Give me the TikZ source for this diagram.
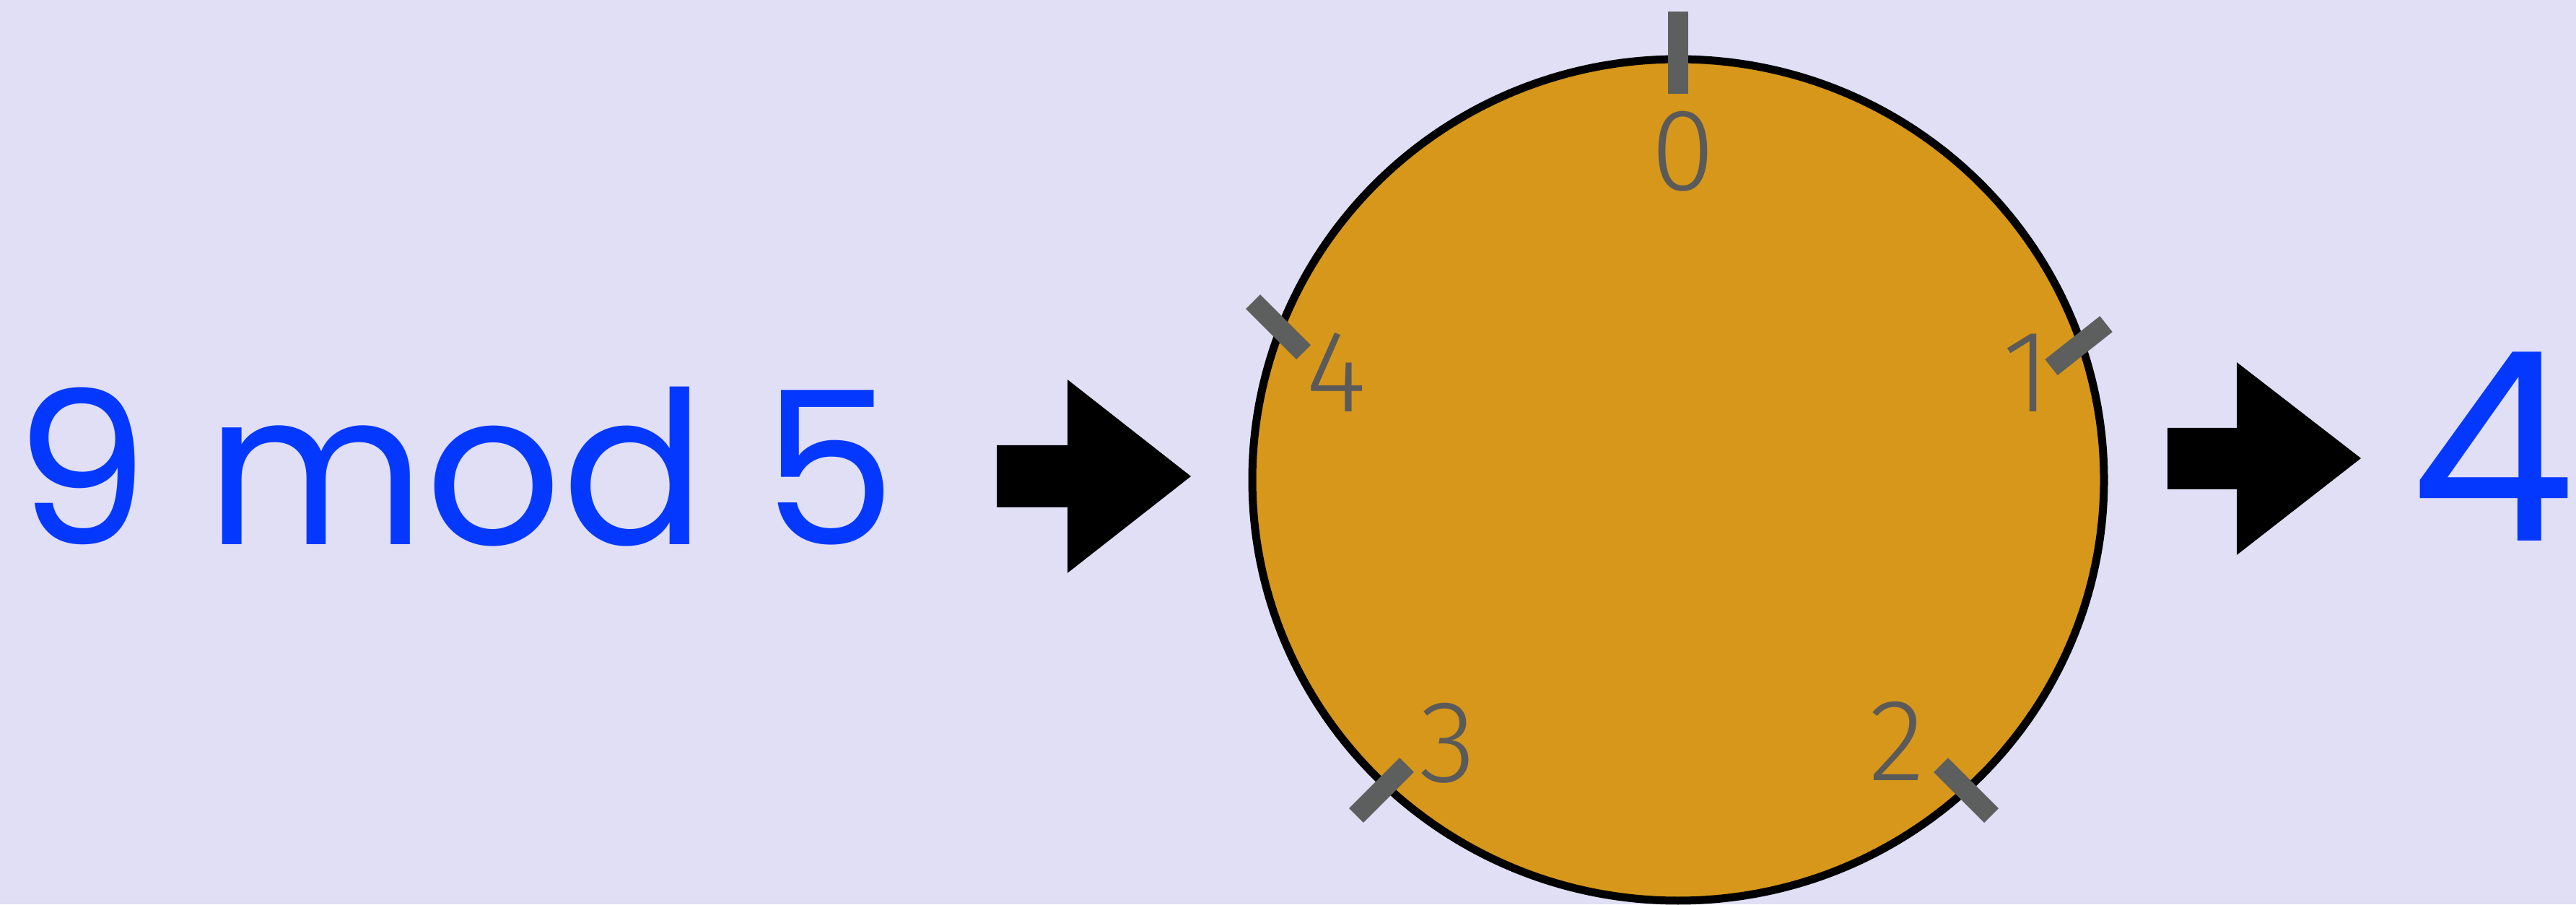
\documentclass[tikz,border=0pt]{standalone}
\usepackage{fontspec}
\newfontfamily\handfont{Poppins}
\newfontfamily\dialfont{Fira Sans Light}
\definecolor{clkbg}{RGB}{224,223,245}
\definecolor{clkgold}{RGB}{214,151,26}
\definecolor{clkgray}{RGB}{92,95,93}
\definecolor{clkdigit}{RGB}{90,90,90}
\definecolor{clkblue}{RGB}{5,56,255}
\tikzset{
  dialtick/.style={draw=clkgray, line width=0.28cm},
  dialnum/.style={font=\dialfont\fontsize{46}{46}\selectfont, text=clkdigit, inner sep=0pt, anchor=base},
  chalk/.style={font=\handfont\fontsize{84}{84}\selectfont, text=clkblue, inner sep=0pt, anchor=base west},
  blockarrow/.style={fill=black}
}

\begin{document}
\begin{tikzpicture}
  \useasboundingbox (0,0) rectangle (35.69,12.53);
  \fill[clkbg] (0,0) rectangle (35.69,12.53);

  % Input expression
  \node[chalk] (expr) at (0.20,4.98) {9 mod 5};

  % Arrow into the clock
  \fill[blockarrow] (13.81,5.50) -- (14.79,5.50) -- (14.79,4.59) -- (16.50,5.93)
    -- (14.79,7.27) -- (14.79,6.36) -- (13.81,6.36) -- cycle;

  % Clock face
  \draw[fill=clkgold, line width=0.11cm] (23.25,5.88) ellipse [x radius=5.90, y radius=5.83];
  \draw[dialtick] (23.25,11.23) -- (23.25,12.37);
  \draw[dialtick] (28.42,7.44) -- (29.18,8.04);
  \draw[dialtick] (26.89,1.93) -- (27.59,1.23);
  \draw[dialtick] (18.79,1.23) -- (19.49,1.93);
  \draw[dialtick] (17.36,8.35) -- (18.06,7.65);

  \node[dialnum] (n0) at (23.32,9.89) {0};
  \node[dialnum] (n1) at (28.08,6.82) {1};
  \node[dialnum] (n2) at (26.28,1.71) {2};
  \node[dialnum] (n3) at (20.06,1.70) {3};
  \node[dialnum] (n4) at (18.51,6.82) {4};

  % Arrow out of the clock
  \fill[blockarrow] (30.03,5.75) -- (30.99,5.75) -- (30.99,4.84) -- (32.71,6.18)
    -- (30.99,7.51) -- (30.99,6.60) -- (30.03,6.60) -- cycle;

  % Result
  \node[chalk, font=\handfont\fontsize{104}{104}\selectfont] (result) at (33.38,5.03) {4};
\end{tikzpicture}
\end{document}
